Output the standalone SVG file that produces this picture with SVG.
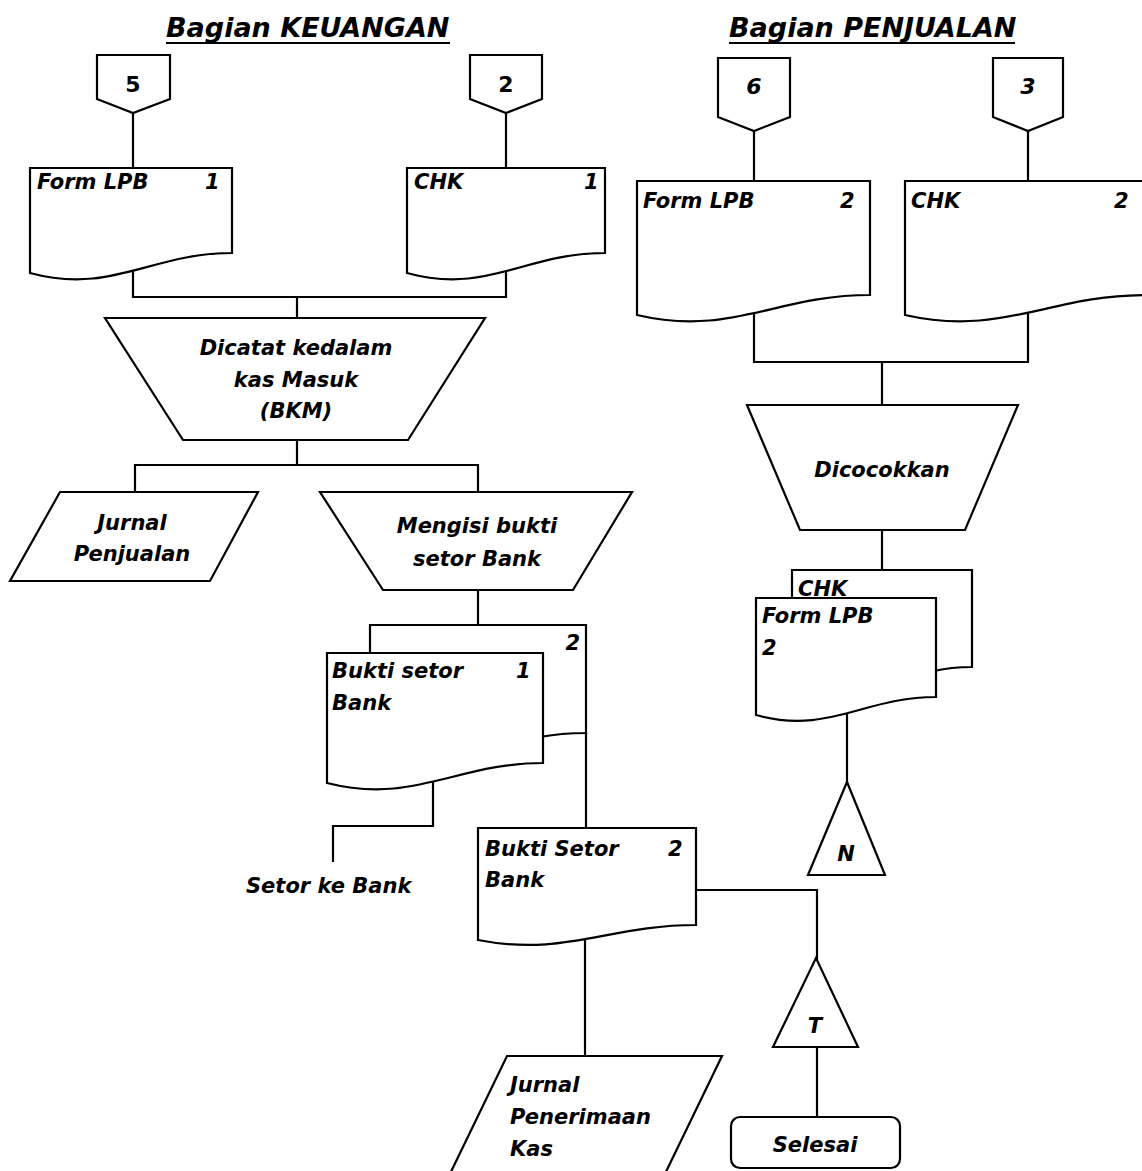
<svg xmlns="http://www.w3.org/2000/svg" width="1142" height="1171" viewBox="0 0 1142 1171">
<style>
.s{fill:#fff;stroke:#000;stroke-width:2.2;stroke-linejoin:miter}
.c{fill:none;stroke:#000;stroke-width:2.2}
text{font-family:"DejaVu Sans","Liberation Sans",sans-serif;font-weight:bold;font-style:italic;font-size:21px;fill:#000}
.m{text-anchor:middle}
.e{text-anchor:end}
.u{font-style:normal}
.n{font-size:22px}
.h{font-size:27px}
</style>
<rect width="1142" height="1171" fill="#fff"/>
<g id="titles">
<text class="h" x="166" y="37">Bagian KEUANGAN</text>
<line class="c" x1="166" y1="43" x2="450" y2="43"/>
<text class="h" x="729" y="37">Bagian PENJUALAN</text>
<line class="c" x1="729" y1="43" x2="1015" y2="43"/>
</g>
<g id="connectors">
<path class="c" d="M133,113 V170 M506,113 V170"/>
<path class="c" d="M133,262 V297 H506 V262 M297,297 V320"/>
<path class="c" d="M297,438 V465 M135,494 V465 H478 V494"/>
<path class="c" d="M478,588 V627"/>
<path class="c" d="M586,733 V830"/>
<path class="c" d="M433,770 V826 H333 V862"/>
<path class="c" d="M585,925 V1058"/>
<path class="c" d="M694,890 H817 V960"/>
<path class="c" d="M817,1045 V1119"/>
<path class="c" d="M754,131 V183 M1028,131 V183"/>
<path class="c" d="M754,300 V362 H1028 V300 M882,362 V407"/>
<path class="c" d="M882,528 V572"/>
<path class="c" d="M847,700 V784"/>
</g>
<g id="conn5"><path class="s" d="M97,55 H170 V99 L133,113 L97,99 Z"/><text class="m u n" x="133" y="92">5</text></g>
<g id="conn2"><path class="s" d="M470,55 H542 V99 L506,113 L470,99 Z"/><text class="m u n" x="506" y="92">2</text></g>
<g id="conn6"><path class="s" d="M718,58 H790 V117 L754,131 L718,117 Z"/><text class="m n" x="754" y="94">6</text></g>
<g id="conn3"><path class="s" d="M993,58 H1063 V117 L1028,131 L993,117 Z"/><text class="m n" x="1028" y="94">3</text></g>
<g id="doc-formlpb1"><path class="s" d="M30,168 H232 V253 C151,253 111,295 30,273 Z"/><text x="37" y="189">Form LPB</text><text x="205" y="189">1</text></g>
<g id="doc-chk1"><path class="s" d="M407,168 H605 V253 C526,253 486,295 407,273 Z"/><text x="414" y="189">CHK</text><text x="584" y="189">1</text></g>
<g id="proc-bkm"><path class="s" d="M105,318 H485 L408,440 H183 Z"/><text class="m" x="296" y="355">Dicatat kedalam</text><text class="m" x="296" y="387">kas Masuk</text><text class="m" x="296" y="418">(BKM)</text></g>
<g id="jurnal-penjualan"><path class="s" d="M60,492 H258 L210,581 H10 Z"/><text class="m" x="132" y="530">Jurnal</text><text class="m" x="132" y="561">Penjualan</text></g>
<g id="proc-setor"><path class="s" d="M320,492 H632 L573,590 H383 Z"/><text class="m" x="477" y="533">Mengisi bukti</text><text class="m" x="477" y="566">setor Bank</text></g>
<g id="doc-bukti-back"><path class="s" d="M370,625 H586 V733 C500,733 456,775 370,753 Z"/><text class="e" x="580" y="650">2</text></g>
<g id="doc-bukti1"><path class="s" d="M327,653 H543 V763 C457,763 413,805 327,783 Z"/><text x="332" y="678">Bukti setor</text><text x="332" y="710">Bank</text><text x="516" y="678">1</text></g>
<g id="setor-ke-bank"><text x="246" y="893">Setor ke Bank</text></g>
<g id="doc-bukti2"><path class="s" d="M478,828 H696 V925 C609,925 565,957 478,940 Z"/><text x="485" y="856">Bukti Setor</text><text x="485" y="887">Bank</text><text x="668" y="856">2</text></g>
<g id="jurnal-penerimaan"><path class="s" d="M507,1056 H722 L662,1180 H447 Z"/><text x="510" y="1092">Jurnal</text><text x="510" y="1124">Penerimaan</text><text x="510" y="1156">Kas</text></g>
<g id="tri-t"><path class="s" d="M816,958 L858,1047 H773 Z"/><text class="m" x="815" y="1033">T</text></g>
<g id="selesai"><rect class="s" x="731" y="1117" width="169" height="51" rx="9"/><text class="m" x="815" y="1152">Selesai</text></g>
<g id="doc-formlpb2"><path class="s" d="M637,181 H870 V295 C777,295 730,337 637,315 Z"/><text x="643" y="208">Form LPB</text><text x="840" y="208">2</text></g>
<g id="doc-chk2"><path class="s" d="M905,181 H1146 V295 C1050,295 1001,337 905,315 Z"/><text x="911" y="208">CHK</text><text x="1114" y="208">2</text></g>
<g id="proc-cocok"><path class="s" d="M747,405 H1018 L965,530 H800 Z"/><text class="m" x="882" y="477">Dicocokkan</text></g>
<g id="doc-chk-back"><path class="s" d="M792,570 H972 V667 C900,667 864,709 792,687 Z"/><text x="798" y="596">CHK</text></g>
<g id="doc-formlpb-front"><path class="s" d="M756,598 H936 V697 C864,697 828,735 756,715 Z"/><text x="762" y="623">Form LPB</text><text x="762" y="655">2</text></g>
<g id="tri-n"><path class="s" d="M847,782 L885,875 H808 Z"/><text class="m" x="846" y="861">N</text></g>
</svg>
